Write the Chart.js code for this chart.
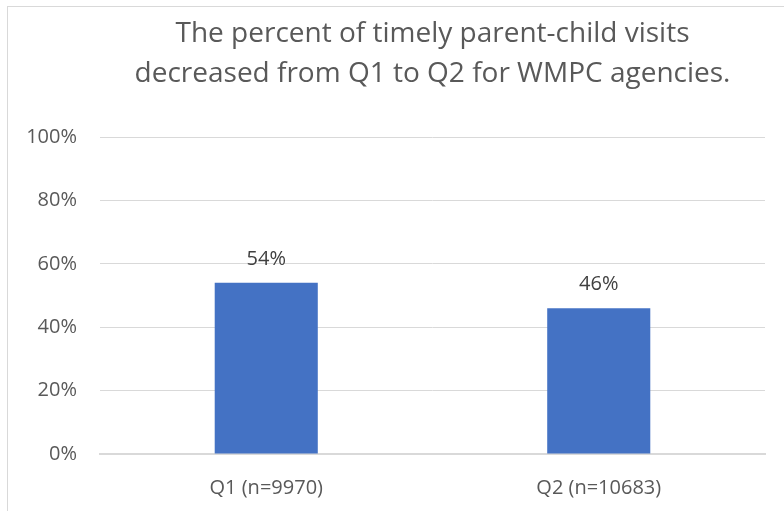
<!DOCTYPE html>
<html lang="en">
<head>
    <meta charset="UTF-8">
    <title>Timely parent-child visits</title>
    <script src="https://cdn.jsdelivr.net/npm/chart.js"></script>
    <style>
        html, body { margin: 0; padding: 0; background: #fff; overflow: hidden; }
        #frame {
            position: absolute; left: 7px; top: 6px;
            width: 900px; height: 600px;
            border: 1px solid #d9d9d9; box-sizing: border-box;
        }
        #graph { position: absolute; left: 0; top: 0; width: 870px; height: 511px; }
    </style>
</head>
<body>
    <div id="frame"></div>
    <div id="graph">
        <canvas id="myChart" width="870" height="511"></canvas>
    </div>
    <script>
        // dados do grafico
        const categories = ['Q1 (n=9970)', 'Q2 (n=10683)'];
        const percentValues = [54, 46];
        const yTicks = [0, 20, 40, 60, 80, 100];
        const titleLines = ['The percent of timely parent-child visits', 'decreased from Q1 to Q2 for WMPC agencies.'];

        const fontFamily = "'Open Sans', 'Noto Sans', sans-serif";

        // escreve o valor em cima de cada barra
        const barLabels = {
            id: 'barLabels',
            afterDatasetsDraw(chart) {
                const ctx = chart.ctx;
                const meta = chart.getDatasetMeta(0);
                ctx.save();
                ctx.font = '20px ' + fontFamily;
                ctx.fillStyle = '#404040';
                ctx.textAlign = 'center';
                ctx.textBaseline = 'middle';
                meta.data.forEach(function (bar, i) {
                    ctx.fillText(percentValues[i] + '%', bar.x, bar.y - 24);
                });
                ctx.restore();
            }
        };

        const config = {
            type: 'bar',
            data: {
                labels: categories,
                datasets: [{
                    data: percentValues,
                    backgroundColor: '#4472C4',
                    categoryPercentage: 0.62,
                    barPercentage: 0.5
                }]
            },
            options: {
                responsive: false,
                animation: false,
                layout: { padding: { left: 0, right: 105, top: 0, bottom: 0 } },
                plugins: {
                    legend: { display: false },
                    tooltip: { enabled: false },
                    title: {
                        display: true,
                        fullSize: false,
                        text: titleLines,
                        color: '#595959',
                        font: { family: fontFamily, size: 28, weight: 'normal', lineHeight: 1.43 },
                        padding: { top: 14, bottom: 43 }
                    }
                },
                scales: {
                    y: {
                        min: 0,
                        max: 100,
                        afterFit: function (scale) { scale.width = 100; },
                        afterBuildTicks: function (scale) {
                            scale.ticks = yTicks.map(function (v) { return { value: v }; });
                        },
                        ticks: {
                            padding: 23,
                            color: '#595959',
                            font: { family: fontFamily, size: 20 },
                            callback: function (v) { return v + '%'; }
                        },
                        grid: { color: '#d9d9d9', drawTicks: false },
                        border: { display: false }
                    },
                    x: {
                        afterFit: function (scale) { scale.height = 57; },
                        ticks: {
                            padding: 14,
                            color: '#595959',
                            font: { family: fontFamily, size: 20 }
                        },
                        grid: { display: false },
                        border: { color: '#d9d9d9', width: 2 }
                    }
                }
            },
            plugins: [barLabels]
        };

        const myChart = new Chart(document.getElementById('myChart'), config);
    </script>
</body>
</html>
